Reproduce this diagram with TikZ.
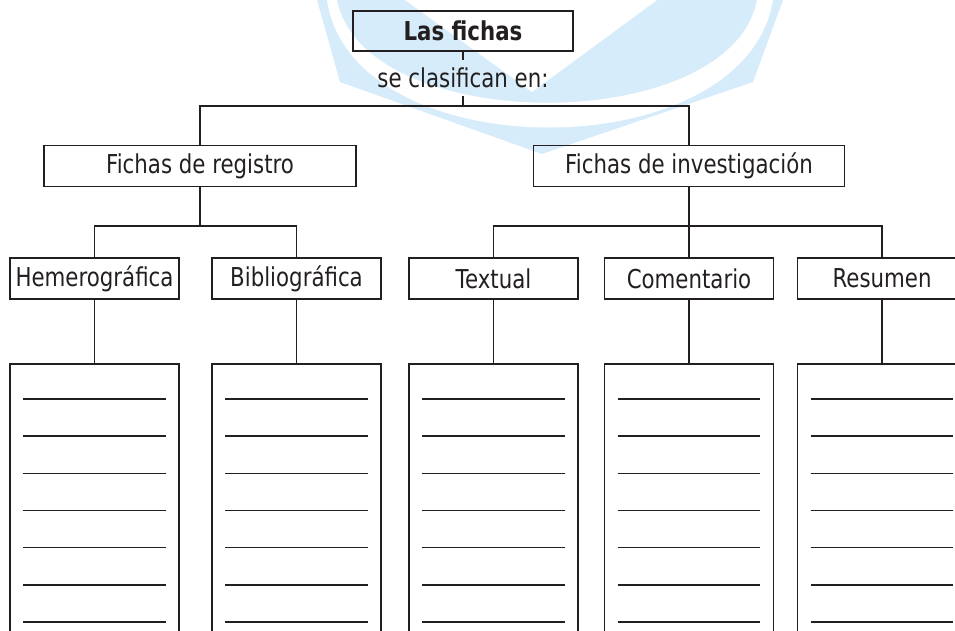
\documentclass[tikz,border=0pt]{standalone}
\usepackage{fontspec}
\setmainfont[FakeStretch=0.82]{DejaVu Sans}
\usetikzlibrary{calc}
\definecolor{ink}{HTML}{231F20}
\definecolor{wm}{HTML}{D6ECFB}
\begin{document}
\begin{tikzpicture}[x=1pt,y=-1pt,
  lbl/.style={draw=ink,line width=1.8pt,rectangle,inner sep=0pt,text=ink,font=\fontsize{26}{30}\selectfont,minimum height=41pt},
  card/.style={draw=ink,line width=1.8pt,rectangle,inner sep=0pt,minimum width=169pt,minimum height=277pt,anchor=north},
  conn/.style={draw=ink,line width=1.9pt},
  rule/.style={draw=ink,line width=1.5pt}]
\useasboundingbox (0,0) rectangle (955,630);
\clip (0,0) rectangle (955,630);
% watermark
\fill[wm] (317,0) -- (340,82) -- (542,154) -- (753,82) -- (783,0) -- cycle;
\fill[white] (327,0) .. controls (352,170) and (745,170) .. (773,0) -- (757,0) .. controls (731,137) and (364,137) .. (337,0) -- cycle;
\fill[white] (405,0) -- (532,92) -- (657,0) -- cycle;
% top
\node[lbl,minimum width=220pt,minimum height=40pt,font=\fontsize{26}{30}\selectfont\bfseries] (top) at (463,31) {Las fichas};
\node[inner sep=0pt,text height=27pt,text depth=9pt,text=ink,font=\fontsize{26}{30}\selectfont] (sc) at (463,78) {se clasifican en:};
\coordinate (j1) at (463,106);
\draw[conn] (top.south) -- (sc.north);
\draw[conn] (sc.south) -- (j1);
% level 2
\node[lbl,minimum width=312pt] (reg) at (200,166) {Fichas de registro};
\node[lbl,minimum width=311pt] (inv) at (689,166) {Fichas de investigación};
\draw[conn] (reg.north) |- (j1) -| (inv.north);
\coordinate (j2) at (200,226);
\coordinate (j3) at (689,226);
\draw[conn] (reg.south) -- (j2);
\draw[conn] (inv.south) -- (j3);
% level 3
\node[lbl,minimum width=169pt] (hem) at (94.5,278.5) {Hemerográfica};
\node[lbl,minimum width=169pt] (bib) at (296.5,278.5) {Bibliográfica};
\node[lbl,minimum width=169pt] (tex) at (493.5,278.5) {Textual};
\node[lbl,minimum width=169pt] (com) at (689,278.5) {Comentario};
\node[lbl,minimum width=169pt] (res) at (882,278.5) {Resumen};
\draw[conn] (hem.north) |- (j2) -| (bib.north);
\draw[conn] (tex.north) |- (j3) -| (res.north);
\draw[conn] (j3) -- (com.north);
% cards
\node[card] (hemc) at (94.5,363) {};
\node[card] (bibc) at (296.5,363) {};
\node[card] (texc) at (493.5,363) {};
\node[card] (comc) at (689,363) {};
\node[card] (resc) at (882,363) {};
\foreach \a/\b in {hem/hemc,bib/bibc,tex/texc,com/comc,res/resc}{
  \draw[conn] (\a.south) -- (\b.north);
  \foreach \k in {0,...,6}{
    \draw[rule] ($(\b.north west)+(14,36+37.17*\k)$) -- ($(\b.north east)+(-14,36+37.17*\k)$);
  }
}
\end{tikzpicture}
\end{document}
